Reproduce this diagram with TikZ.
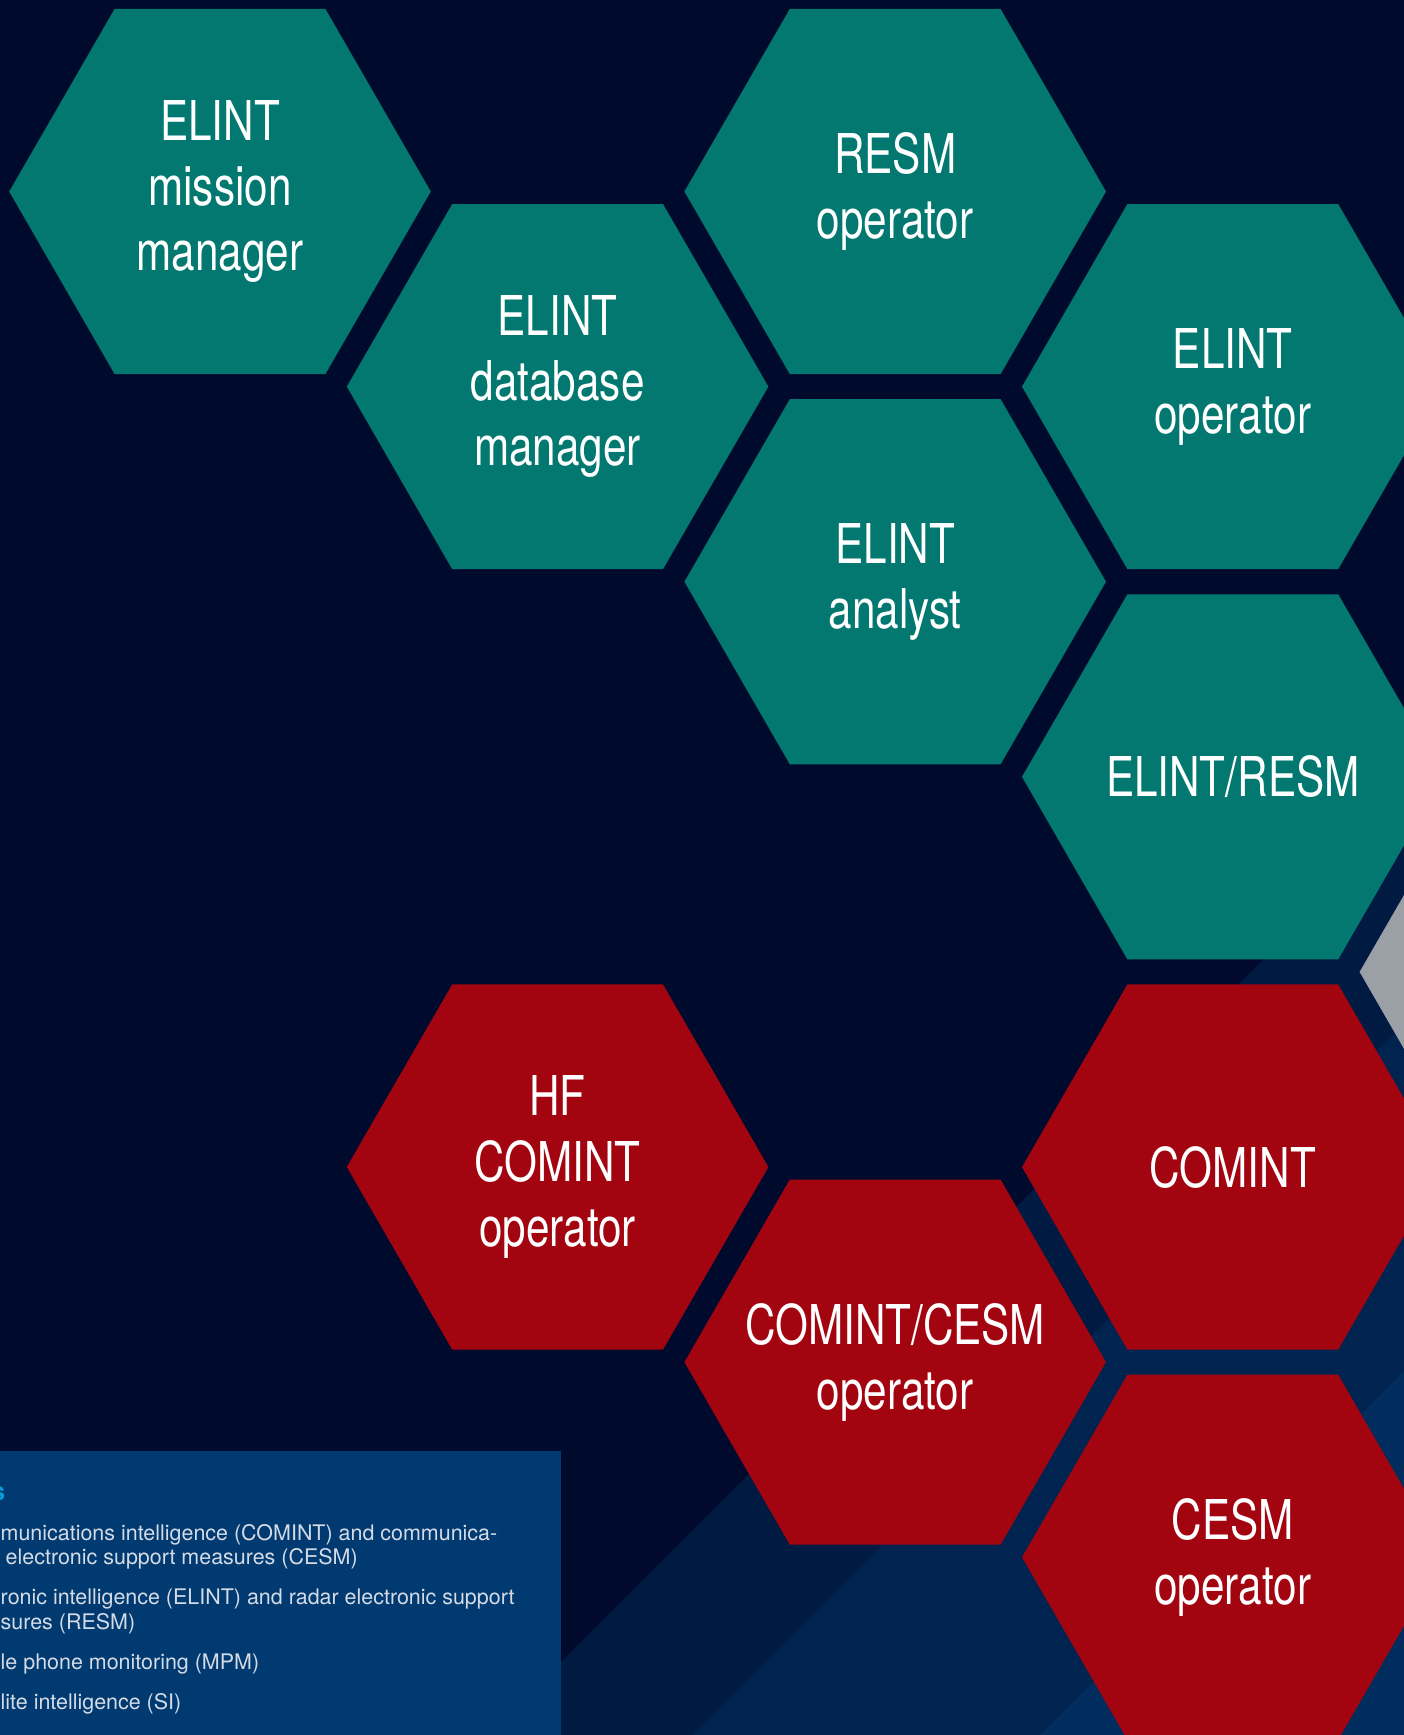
\documentclass[tikz,border=0pt]{standalone}
\usepackage{fontspec}
\usepackage{xcolor}
\usepackage{tikz}
\usetikzlibrary{calc}
\newfontfamily\hexFont{TeX Gyre Heros}[FakeStretch=0.77]
\newfontfamily\legendFont{TeX Gyre Heros}
\definecolor{bgNavy}{HTML}{000A2D}
\definecolor{bandOne}{HTML}{001A42}
\definecolor{bandTwo}{HTML}{002350}
\definecolor{bandThree}{HTML}{002C5E}
\definecolor{legendBlue}{HTML}{003A70}
\definecolor{titleBlue}{HTML}{0A9BDB}
\definecolor{legendText}{HTML}{D5DBE6}
\definecolor{elintTeal}{HTML}{027870}
\definecolor{comintRed}{HTML}{A30510}
\definecolor{otherGrey}{HTML}{9BA0A6}
\newcommand{\pageWidth}{1404}
\newcommand{\pageHeight}{1735}
\newcommand{\hexRadius}{210.8}
\newcommand{\colStep}{337.6}
\newcommand{\rowStep}{195.1}
\newcommand{\hexOriginX}{220}
\newcommand{\hexOriginY}{191.5}
\newcommand{\bandLines}{2223/bandOne, 2427/bandTwo, 2775/bandThree}
\newcommand{\hexCells}{0/0/elintTeal/{ELINT\\mission\\manager}, 1/1/elintTeal/{ELINT\\database\\manager}, 2/0/elintTeal/{RESM\\operator}, 3/1/elintTeal/{ELINT\\operator}, 2/2/elintTeal/{ELINT\\analyst}, 3/3/elintTeal/{ELINT/RESM}, 4/4/otherGrey/{}, 1/5/comintRed/{HF\\COMINT\\operator}, 3/5/comintRed/{COMINT}, 2/6/comintRed/{COMINT/CESM\\operator}, 3/7/comintRed/{CESM\\operator}}
\newcommand{\legendLines}{0/1540/{munications intelligence (COMINT) and communica-}, 5/1564.3/{electronic support measures (CESM)}, 0/1604.3/{ronic intelligence (ELINT) and radar electronic support}, 0/1629/{sures (RESM)}, 0/1669/{le phone monitoring (MPM)}, 0/1709.3/{lite intelligence (SI)}}

\begin{document}
\begin{tikzpicture}[x=0.01cm, y=-0.01cm,
	hexLabel/.style={text=white, font=\hexFont\fontsize{15.6}{18.5}\selectfont, align=center, inner sep=0pt},
	legendLine/.style={text=legendText, font=\legendFont\fontsize{6.1}{7}\selectfont, inner sep=0pt, anchor=base west},
	legendTitle/.style={text=titleBlue, font=\legendFont\bfseries\fontsize{7.2}{8}\selectfont, inner sep=0pt, anchor=base east}]

	\useasboundingbox (0,0) rectangle (\pageWidth,\pageHeight);
	\clip (0,0) rectangle (\pageWidth,\pageHeight);
	\fill[bgNavy] (0,0) rectangle (\pageWidth,\pageHeight);

	\foreach \bandSum/\bandColour in \bandLines
	{
		\fill[\bandColour] (\bandSum-\pageHeight,\pageHeight) -- (\pageWidth,\bandSum-\pageWidth) -- (\pageWidth,\pageHeight) -- cycle;
	}

	\fill[legendBlue] (-10,1451) rectangle (561,\pageHeight+10);
	\node[legendTitle] (legendHead) at (6,1500) {s};
	\foreach \lineX/\lineY/\lineText [count=\i] in \legendLines
	{
		\node[legendLine] (legend\i) at (\lineX,\lineY) {\lineText};
	}

	\foreach \col/\row/\hexColour/\hexText in \hexCells
	{
		\coordinate (c\col\row) at (\hexOriginX + \col * \colStep, \hexOriginY + \row * \rowStep);
		\fill[\hexColour] (c\col\row) ++(0:\hexRadius) -- ++(120:\hexRadius) -- ++(180:\hexRadius) -- ++(240:\hexRadius) -- ++(300:\hexRadius) -- ++(0:\hexRadius) -- cycle;
		\node[hexLabel] (hex\col\row) at (c\col\row) {\hexText};
	}
\end{tikzpicture}
\end{document}
